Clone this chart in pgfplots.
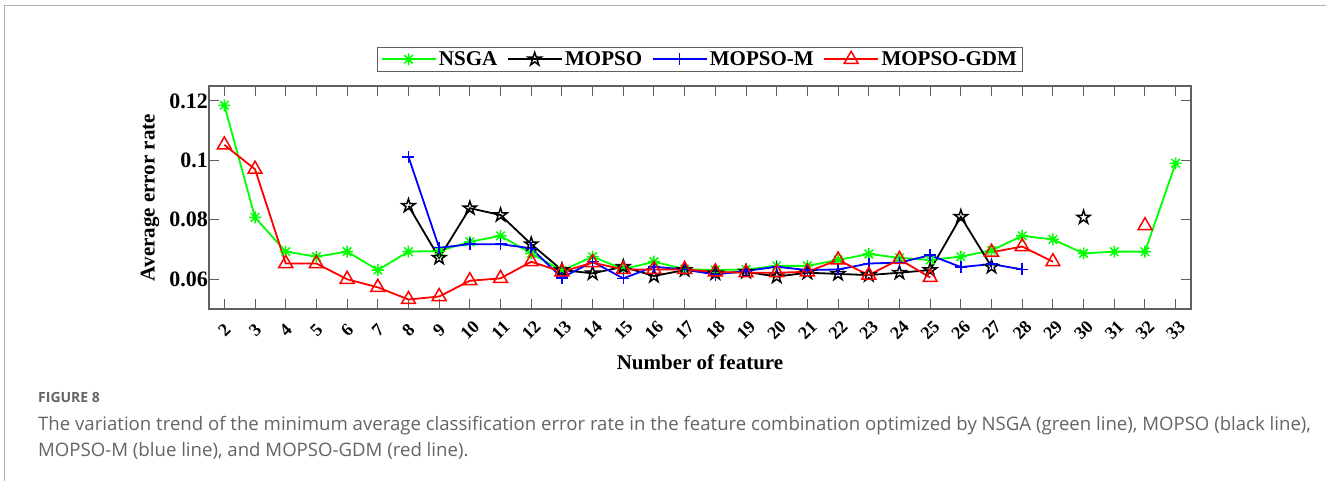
\documentclass[border=0pt]{standalone}
\usepackage{pgfplots}
\pgfplotsset{compat=1.18}
\usepackage{fontspec}
\setmainfont{Liberation Serif}
\newfontfamily\capfont{Open Sans}
\usetikzlibrary{plotmarks}
\definecolor{axgray}{RGB}{95,95,95}
\definecolor{capgray}{RGB}{100,100,100}
\definecolor{mgreen}{RGB}{0,255,0}

\pgfdeclareplotmark{pentagram}{%
 \pgfpathmoveto{\pgfpointpolar{90}{\pgfplotmarksize}}%
 \pgfpathlineto{\pgfpointpolar{126}{0.382\pgfplotmarksize}}%
 \pgfpathlineto{\pgfpointpolar{162}{\pgfplotmarksize}}%
 \pgfpathlineto{\pgfpointpolar{198}{0.382\pgfplotmarksize}}%
 \pgfpathlineto{\pgfpointpolar{234}{\pgfplotmarksize}}%
 \pgfpathlineto{\pgfpointpolar{270}{0.382\pgfplotmarksize}}%
 \pgfpathlineto{\pgfpointpolar{306}{\pgfplotmarksize}}%
 \pgfpathlineto{\pgfpointpolar{342}{0.382\pgfplotmarksize}}%
 \pgfpathlineto{\pgfpointpolar{18}{\pgfplotmarksize}}%
 \pgfpathlineto{\pgfpointpolar{54}{0.382\pgfplotmarksize}}%
 \pgfpathclose\pgfusepathqstroke}
\pgfdeclareplotmark{mstar}{%
 \pgfpathmoveto{\pgfqpoint{0pt}{\pgfplotmarksize}}\pgfpathlineto{\pgfqpoint{0pt}{-\pgfplotmarksize}}%
 \pgfpathmoveto{\pgfqpoint{\pgfplotmarksize}{0pt}}\pgfpathlineto{\pgfqpoint{-\pgfplotmarksize}{0pt}}%
 \pgfpathmoveto{\pgfqpoint{.707\pgfplotmarksize}{.707\pgfplotmarksize}}\pgfpathlineto{\pgfqpoint{-.707\pgfplotmarksize}{-.707\pgfplotmarksize}}%
 \pgfpathmoveto{\pgfqpoint{-.707\pgfplotmarksize}{.707\pgfplotmarksize}}\pgfpathlineto{\pgfqpoint{.707\pgfplotmarksize}{-.707\pgfplotmarksize}}%
 \pgfusepathqstroke}

\begin{document}
\begin{tikzpicture}[x=1pt,y=1pt]
\path[use as bounding box] (0,0) rectangle (1326,481);
\draw[gray!60, line width=1.3pt] (4.5,0) -- (4.5,475.5) -- (1326,475.5);
\begin{axis}[
  at={(209pt,172pt)}, anchor=south west,
  width=982pt, height=223pt, scale only axis,
  xmin=1.5, xmax=33.5, ymin=0.05, ymax=0.125,
  xtick={2,...,33},
  ytick={0.06,0.08,0.1,0.12},
  yticklabels={0.06,0.08,0.1,0.12},
  tick align=inside, major tick length=10pt,
  axis line style={axgray, line width=1.2pt},
  tick style={axgray, line width=1pt},
  /pgf/number format/assume math mode=true,
  yticklabel style={font=\bfseries\fontsize{22}{26}\selectfont, inner sep=1pt},
  xticklabel style={font=\bfseries\fontsize{18}{22}\selectfont, rotate=45, anchor=center, inner sep=0pt},
  xticklabel shift=21pt,
  xlabel={Number of feature},
  ylabel={Average error rate},
  label style={font=\bfseries\fontsize{21}{25}\selectfont},
  xlabel style={at={(axis description cs:0.5,0)}, anchor=center, yshift=-53pt},
  ylabel style={at={(axis description cs:-0.06,0.5)}, anchor=center},
  unbounded coords=jump,
  legend columns=4,
  legend style={at={(axis description cs:0.5,1)}, anchor=south, yshift=14pt,
    draw=axgray, line width=1pt, font=\bfseries\fontsize{21}{24}\selectfont,
    inner xsep=3pt, inner ysep=2pt,
    nodes={inner sep=2.5pt},
    /tikz/every even column/.append style={column sep=7pt}},
  legend image code/.code={\draw[mark repeat=2,mark phase=2,#1] plot coordinates {(0pt,0pt) (27pt,0pt) (54pt,0pt)};},
  every axis plot/.append style={line width=1.8pt, mark options={solid, line width=1.5pt}},
]
\addplot[mgreen, mark=mstar, mark size=6pt] coordinates {
(2,0.1185)(3,0.0808)(4,0.0693)(5,0.0676)(6,0.0693)(7,0.0631)(8,0.0693)(9,0.0695)
(10,0.0726)(11,0.0746)(12,0.0687)(13,0.0629)(14,0.0676)(15,0.0634)(16,0.0659)
(17,0.0634)(18,0.0631)(19,0.0633)(20,0.0645)(21,0.0645)(22,0.0665)(23,0.0685)
(24,0.0672)(25,0.0665)(26,0.0676)(27,0.0697)(28,0.0746)(29,0.0734)(30,0.0687)
(31,0.0693)(32,0.0693)(33,0.0990)};
\addlegendentry{NSGA}
\addplot[black, mark=pentagram, mark size=7pt] coordinates {
(8,0.0847)(9,0.0672)(10,0.0839)(11,0.0816)(12,0.0718)(13,0.0631)(14,0.0620)
(15,0.0642)(16,0.0611)(17,0.0631)(18,0.0620)(19,0.0625)(20,0.0609)(21,0.0622)
(22,0.0618)(23,0.0614)(24,0.0622)(25,0.0631)(26,0.0810)(27,0.0642)(28,nan)
(30,0.0808)};
\addlegendentry{MOPSO}
\addplot[blue, mark=+, mark size=6pt] coordinates {
(8,0.1012)(9,0.0706)(10,0.0718)(11,0.0718)(12,0.0704)(13,0.0605)(14,0.0659)
(15,0.0603)(16,0.0642)(17,0.0633)(18,0.0616)(19,0.0628)(20,0.0642)(21,0.0631)
(22,0.0633)(23,0.0653)(24,0.0656)(25,0.0681)(26,0.0641)(27,0.0651)(28,0.0633)};
\addlegendentry{MOPSO-M}
\addplot[red, mark=triangle, mark size=8pt] coordinates {
(2,0.1052)(3,0.0970)(4,0.0653)(5,0.0653)(6,0.0600)(7,0.0573)(8,0.0532)(9,0.0542)
(10,0.0595)(11,0.0603)(12,0.0659)(13,0.0625)(14,0.0656)(15,0.0633)(16,0.0633)
(17,0.0633)(18,0.0625)(19,0.0622)(20,0.0622)(21,0.0625)(22,0.0665)(23,0.0614)
(24,0.0667)(25,0.0606)(26,nan)(27,0.0691)(28,0.0710)(29,0.0659)(30,nan)
(32,0.0780)};
\addlegendentry{MOPSO-GDM}
\end{axis}
\node[anchor=base west, inner sep=0pt, text=capgray, font=\capfont\bfseries\fontsize{14}{16}\selectfont] at (38,78) {FIGURE 8};
\node[anchor=base west, inner sep=0pt, text=capgray, font=\capfont\fontsize{18.6}{26}\selectfont] at (38,50) {The variation trend of the minimum average classification error rate in the feature combination optimized by NSGA (green line), MOPSO (black line),};
\node[anchor=base west, inner sep=0pt, text=capgray, font=\capfont\fontsize{18.6}{26}\selectfont] at (38,24) {MOPSO-M (blue line), and MOPSO-GDM (red line).};
\end{tikzpicture}
\end{document}
